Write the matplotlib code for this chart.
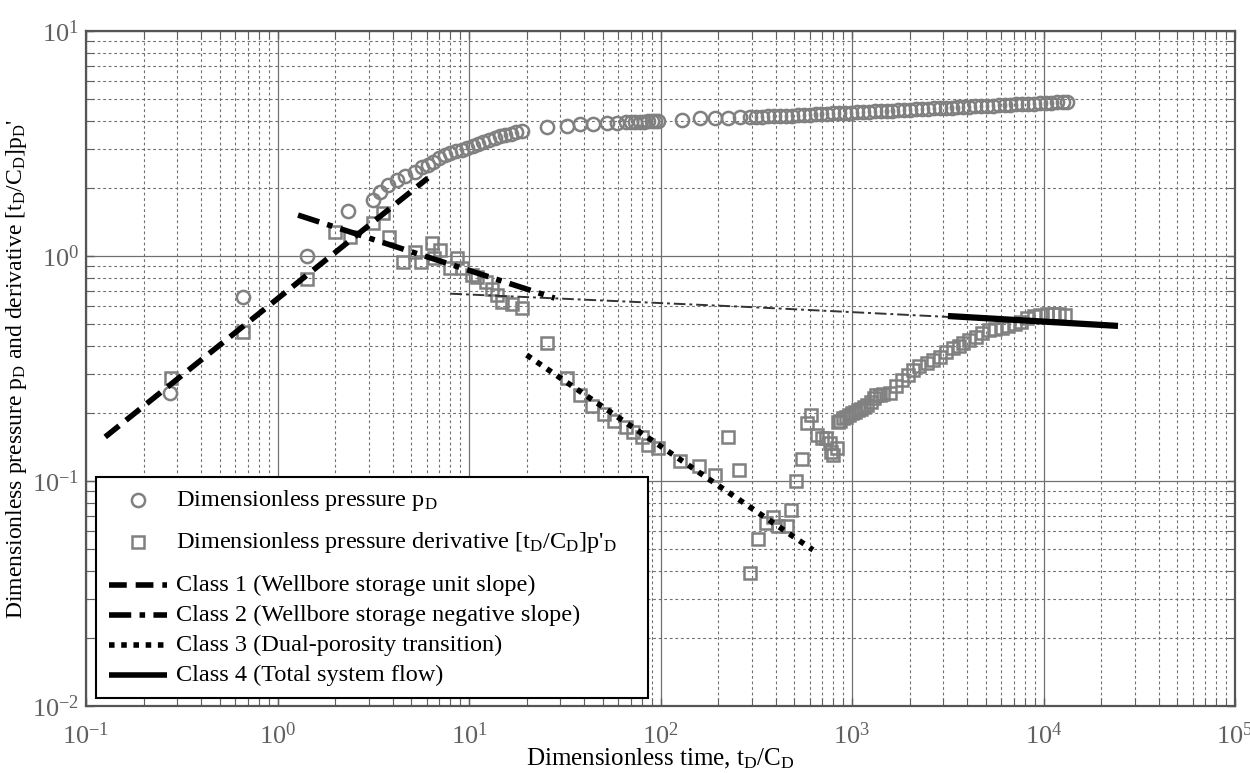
import numpy as np
import matplotlib.pyplot as plt
from matplotlib.patches import Rectangle
from matplotlib.ticker import LogLocator, NullFormatter

plt.rcParams['font.family'] = ['Liberation Serif', 'DejaVu Serif']
plt.rcParams['mathtext.fontset'] = 'custom'
plt.rcParams['mathtext.rm'] = 'Liberation Serif'
plt.rcParams['mathtext.it'] = 'Liberation Serif:italic'

# =============================================================================
# DATA
# =============================================================================
# dimensionless pressure pD
pd_t = [0.275, 0.66, 1.43, 2.33, 3.15, 3.43, 3.78, 4.2, 4.64, 5.2, 5.66, 6.1,
        6.5, 7.0, 7.5, 8.0, 8.6, 9.2, 9.8, 10.5, 11.2, 11.9, 12.7, 13.6, 14.6,
        15.5, 16.5, 17.6, 18.9,
        25.5, 32.5, 38, 44.5, 52.5, 59, 66, 70, 74, 78, 82, 86, 90, 94, 97,
        129, 161, 193, 225, 260,
        293, 315, 340, 365, 392, 420, 452, 485, 520, 560, 600, 645, 692, 743,
        798, 857, 920, 988, 1060, 1140, 1225, 1315, 1410, 1515, 1625, 1745,
        1875, 2010, 2160, 2320, 2490, 2670, 2870, 3080, 3310, 3550, 3810, 4090,
        4390, 4720, 5060, 5430, 5830, 6260, 6720, 7220, 7750, 8320, 8930, 9590,
        10300, 11000, 11800, 12700, 13300]
pd_v = [0.246, 0.657, 1.0, 1.585, 1.78, 1.93, 2.07, 2.18, 2.27, 2.36, 2.49, 2.55,
        2.62, 2.72, 2.8, 2.86, 2.92, 2.97, 3.02, 3.08, 3.15, 3.21, 3.28, 3.35, 3.41,
        3.45, 3.5, 3.55, 3.59,
        3.74, 3.78, 3.85, 3.85, 3.89, 3.89, 3.93, 3.94, 3.94, 3.95, 3.96, 3.97, 3.98, 3.99, 4.0,
        4.02, 4.1, 4.1, 4.1, 4.14,
        4.14, 4.15, 4.16, 4.17, 4.18, 4.19, 4.20, 4.21, 4.22, 4.24, 4.25, 4.26, 4.28, 4.29,
        4.30, 4.32, 4.33, 4.34, 4.35, 4.37, 4.38, 4.39, 4.41, 4.42, 4.43, 4.45,
        4.46, 4.47, 4.49, 4.50, 4.51, 4.53, 4.54, 4.55, 4.57, 4.58, 4.60, 4.61,
        4.62, 4.64, 4.65, 4.66, 4.68, 4.69, 4.71, 4.72, 4.74, 4.75, 4.76, 4.78,
        4.79, 4.80, 4.82, 4.83, 4.84]

# dimensionless pressure derivative [tD/CD]p'D
dpd_t = [0.278, 0.66, 1.43, 2.0, 2.39, 3.15, 3.56, 3.83, 4.52, 5.22, 5.6, 6.4,
         6.6, 7.06, 7.97, 8.7, 9.2, 10.4, 11.0, 12.2, 13.2, 14.0, 14.9, 16.7, 18.9,
         25.5, 32.5, 38, 44, 51, 57.5, 66, 72, 80, 86, 97,
         126, 159, 193, 225, 256, 293, 323, 355, 385, 410, 455, 480, 510, 545,
         580, 610, 660, 697, 730, 770, 780, 800, 830,
         845, 870, 900, 930, 960, 1000, 1040, 1080, 1120, 1160, 1200, 1250, 1300,
         1340, 1400, 1460, 1580, 1700, 1830, 1950, 2080, 2250, 2450, 2650, 2880,
         3100, 3380, 3600, 3800, 4100, 4460, 4800, 5190, 5600, 6050, 6500, 7080,
         7600, 8240, 8900, 9600, 10400, 11300, 12100, 13000]
dpd_v = [0.287, 0.46, 0.79, 1.28, 1.21, 1.40, 1.55, 1.21, 0.94, 1.04, 0.94, 1.14,
         0.98, 1.06, 0.885, 0.98, 0.885, 0.82, 0.81, 0.77, 0.71, 0.67, 0.625, 0.61, 0.59,
         0.41, 0.287, 0.241, 0.215, 0.198, 0.185, 0.174, 0.165, 0.157, 0.145, 0.14,
         0.123, 0.117, 0.106, 0.157, 0.112, 0.039, 0.055, 0.065, 0.069, 0.063, 0.063,
         0.074, 0.1, 0.125,
         0.181, 0.196, 0.16, 0.155, 0.155, 0.148, 0.135, 0.13, 0.14,
         0.183, 0.185, 0.19, 0.193, 0.196, 0.2, 0.203, 0.207, 0.21, 0.213, 0.218,
         0.225, 0.233, 0.241, 0.241, 0.244, 0.246, 0.265, 0.28, 0.295, 0.31, 0.325,
         0.335, 0.345, 0.356, 0.375, 0.39, 0.40, 0.41, 0.425, 0.437, 0.455, 0.47,
         0.475, 0.48, 0.49, 0.5, 0.51, 0.53, 0.54, 0.545, 0.55, 0.55, 0.55, 0.548]

# flow regime straight lines (end points)
class1_t, class1_v = [0.126, 6.1], [0.157, 2.22]
class2_t, class2_v = [1.28, 28.0], [1.52, 0.65]
class3_t, class3_v = [20.0, 625.0], [0.363, 0.0494]
class4_t, class4_v = [3170.0, 24500.0], [0.541, 0.489]
guide_t, guide_v = [8.0, 293.0, 3200.0], [0.68, 0.593, 0.536]

labels = ['Dimensionless pressure p$_\\mathregular{D}$',
          "Dimensionless pressure derivative [t$_\\mathregular{D}$/C$_\\mathregular{D}$]p'$_\\mathregular{D}$",
          'Class 1 (Wellbore storage unit slope)',
          'Class 2 (Wellbore storage negative slope)',
          'Class 3 (Dual-porosity transition)',
          'Class 4 (Total system flow)']

GRAY = '#808080'
DASH = {'c1': (3.2, 1.6), 'c2': (4, 1.5, 1, 1.5), 'c3': (1, 1.2)}

# =============================================================================
# PLOT
# =============================================================================
W, H = 1250, 773
AX_L, AX_R, AX_T, AX_B = 86, 1235, 31, 706
fig = plt.figure(figsize=(W / 100, H / 100), dpi=100)
ax = fig.add_axes([AX_L / W, 1 - AX_B / H, (AX_R - AX_L) / W, (AX_B - AX_T) / H])

ax.plot(pd_t, pd_v, 'o', ms=9.5, mfc='none', mec=GRAY, mew=1.8, zorder=3)
ax.plot(dpd_t, dpd_v, 's', ms=9, mfc='none', mec=GRAY, mew=1.8, zorder=3)

ax.plot(guide_t, guide_v, color='#333333', lw=1.4, dashes=(6, 2, 1.5, 2), zorder=4)
ax.plot(class1_t, class1_v, color='black', lw=4, dashes=DASH['c1'], zorder=5)
ax.plot(class2_t, class2_v, color='black', lw=4, dashes=DASH['c2'], zorder=5)
ax.plot(class3_t, class3_v, color='black', lw=4, dashes=DASH['c3'], zorder=5)
ax.plot(class4_t, class4_v, color='black', lw=4.5, solid_capstyle='butt', zorder=5)

ax.set_xscale('log')
ax.set_yscale('log')
ax.set_xlim(1e-1, 1e5)
ax.set_ylim(1e-2, 1e1)

ax.xaxis.set_major_locator(LogLocator(base=10, numticks=10))
ax.yaxis.set_major_locator(LogLocator(base=10, numticks=10))
ax.xaxis.set_minor_locator(LogLocator(base=10, subs=np.arange(2, 10), numticks=20))
ax.yaxis.set_minor_locator(LogLocator(base=10, subs=np.arange(2, 10), numticks=20))
ax.xaxis.set_minor_formatter(NullFormatter())
ax.yaxis.set_minor_formatter(NullFormatter())

ax.grid(which='major', color='#707070', lw=0.9, ls='-')
ax.grid(which='minor', color='#707070', lw=0.8, ls=(0, (2.5, 2.5)))
ax.set_axisbelow(True)

ax.tick_params(which='both', direction='in', top=True, right=True,
               colors='#606060', labelsize=19)
ax.tick_params(which='major', length=6, width=1)
ax.tick_params(which='minor', length=6, width=0.8)
ax.tick_params(axis='x', pad=12)
ax.tick_params(axis='y', pad=5)
for s in ax.spines.values():
    s.set_color('#555555')
    s.set_linewidth(1.6)

ax.set_xlabel('Dimensionless time, t$_\\mathregular{D}$/C$_\\mathregular{D}$',
              fontsize=18, labelpad=-2)
ax.set_ylabel("Dimensionless pressure p$_\\mathregular{D}$ and derivative "
              "[t$_\\mathregular{D}$/C$_\\mathregular{D}$]p$_\\mathregular{D}$'",
              fontsize=17, labelpad=2)

# ---- legend box drawn by hand so the row spacing follows the reference ----
def fx(px):
    return (px - AX_L) / (AX_R - AX_L)

def fy(py):
    return (AX_B - py) / (AX_B - AX_T)

ax.add_patch(Rectangle((fx(96), fy(698)), fx(648) - fx(96), fy(477) - fy(698),
                       transform=ax.transAxes, fc='white', ec='black', lw=1.5,
                       zorder=10, clip_on=False))
row_y = [500, 542, 585, 615, 645, 675]
kw = dict(transform=ax.transAxes, clip_on=False, zorder=11)
ax.plot([fx(138)], [fy(row_y[0])], 'o', ms=9.5, mfc='none', mec=GRAY, mew=1.8, **kw)
ax.plot([fx(138)], [fy(row_y[1])], 's', ms=9, mfc='none', mec=GRAY, mew=1.8, **kw)
ax.plot([fx(109), fx(167)], [fy(row_y[2])] * 2, color='black', lw=4, dashes=DASH['c1'], **kw)
ax.plot([fx(109), fx(167)], [fy(row_y[3])] * 2, color='black', lw=4, dashes=DASH['c2'], **kw)
ax.plot([fx(109), fx(167)], [fy(row_y[4])] * 2, color='black', lw=4, dashes=DASH['c3'], **kw)
ax.plot([fx(109), fx(167)], [fy(row_y[5])] * 2, color='black', lw=4, solid_capstyle='butt', **kw)
for lab, ry in zip(labels, row_y):
    ax.text(fx(176), fy(ry + 6), lab, fontsize=17.5, ha='left', va='baseline', **kw)

fig.savefig('out.png', dpi=100)
